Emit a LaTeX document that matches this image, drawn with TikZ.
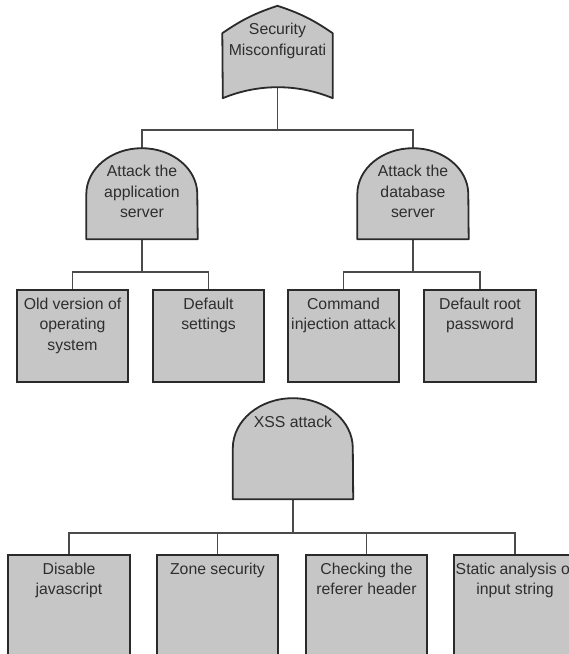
\documentclass[tikz,border=0pt]{standalone}
\usepackage{fontspec}
\setmainfont{Liberation Sans}
\usetikzlibrary{positioning,backgrounds,calc}
\definecolor{gatefill}{HTML}{C6C6C6}
\definecolor{edgegrey}{HTML}{2A2A2A}
\definecolor{wiregrey}{HTML}{4A4A4A}
\definecolor{inkgrey}{HTML}{2E2E2E}
% top aligned text block: height, width, first baseline, text
\newcommand\celltext[4]{\parbox[t][#1pt][t]{#2pt}{\centering\rule{0pt}{#3pt}#4}}
\tikzset{
  leaf/.style={rectangle, draw=edgegrey, fill=gatefill, line width=1.8pt,
               inner sep=0pt, text=inkgrey, font={\fontsize{15.8}{20.5}\selectfont}},
  gate/.style={rectangle, inner sep=0pt, text=inkgrey,
               font={\fontsize{15.8}{20.5}\selectfont}},
  gateline/.style={draw=edgegrey, fill=gatefill, line width=1.8pt, line join=round},
  wire/.style={draw=wiregrey, line width=1.4pt},
}

\begin{document}
\begin{tikzpicture}[x=1pt,y=1pt]
  \useasboundingbox (0,0) rectangle (569,654);
  \clip (0,0) rectangle (569,654);

  % gates
  \node[gate] (sec) at (277.5,602) {\celltext{92}{110}{29}{Security\\Misconfigurati}};
  \node[gate] (app) at (142,460.5) {\celltext{91}{111}{29}{Attack the\\application\\server}};
  \node[gate] (db)  at (413,460.5) {\celltext{91}{111}{29}{Attack the\\database\\server}};
  \node[gate] (xss) at (293,205.5) {\celltext{101}{120}{30}{XSS attack}};

  % leaves, middle row
  \node[leaf] (os)   at (72.5,318)  {\celltext{92}{111}{19.5}{Old version of\\operating\\system}};
  \node[leaf] (def)  at (208.5,318) {\celltext{92}{111}{19.5}{Default\\settings}};
  \node[leaf] (cmd)  at (343.5,318) {\celltext{92}{111}{19.5}{Command\\injection attack}};
  \node[leaf] (root) at (480,318)   {\celltext{92}{112}{19.5}{Default root\\password}};

  % leaves, bottom row
  \node[leaf] (dis)  at (69,44)    {\celltext{110}{122}{19.5}{Disable\\javascript}};
  \node[leaf] (zone) at (217.5,44) {\celltext{110}{121}{19.5}{Zone security}};
  \node[leaf] (chk)  at (366.5,44) {\celltext{110}{121}{19.5}{Checking the\\referer header}};
  \node[leaf] (stat) at (515,44)   {\celltext{110}{122}{19.5}{Static analysis of\\input string}};

  \begin{scope}[on background layer]
    % wires
    \draw[wire] (sec.center) -- ($(sec.south)+(0,-32)$) coordinate (secbus);
    \draw[wire] (app.north) |- (secbus) -| (db.north);
    \draw[wire] (app.south) -- ++(0,-33) coordinate (appbus);
    \draw[wire] (os.north) |- (appbus) -| (def.north);
    \draw[wire] (db.south) -- ++(0,-33) coordinate (dbbus);
    \draw[wire] (cmd.north) |- (dbbus) -| (root.north);
    \draw[wire] (xss.south) -- ++(0,-34) coordinate (xssbus);
    \draw[wire] (dis.north) |- (xssbus) -| (stat.north);
    \draw[wire] (zone.north) -- (zone.north |- xssbus);
    \draw[wire] (chk.north) -- (chk.north |- xssbus);

    % gate outlines
    \path[gateline] ($(sec.south west)+(0,65)$) to[bend left=8] (sec.north)
      to[bend left=8] ($(sec.south east)+(0,65)$) -- (sec.south east)
      arc[start angle=67.4, end angle=112.6, radius=143] -- cycle;
    \path[gateline] (app.south west) -- ++(0,45)
      arc[start angle=180, end angle=0, x radius=55.5, y radius=46] -- (app.south east) -- cycle;
    \path[gateline] (db.south west) -- ++(0,45)
      arc[start angle=180, end angle=0, x radius=55.5, y radius=46] -- (db.south east) -- cycle;
    \path[gateline] (xss.south west) -- ++(0,51)
      arc[start angle=180, end angle=0, x radius=60, y radius=50] -- (xss.south east) -- cycle;
  \end{scope}
\end{tikzpicture}
\end{document}
